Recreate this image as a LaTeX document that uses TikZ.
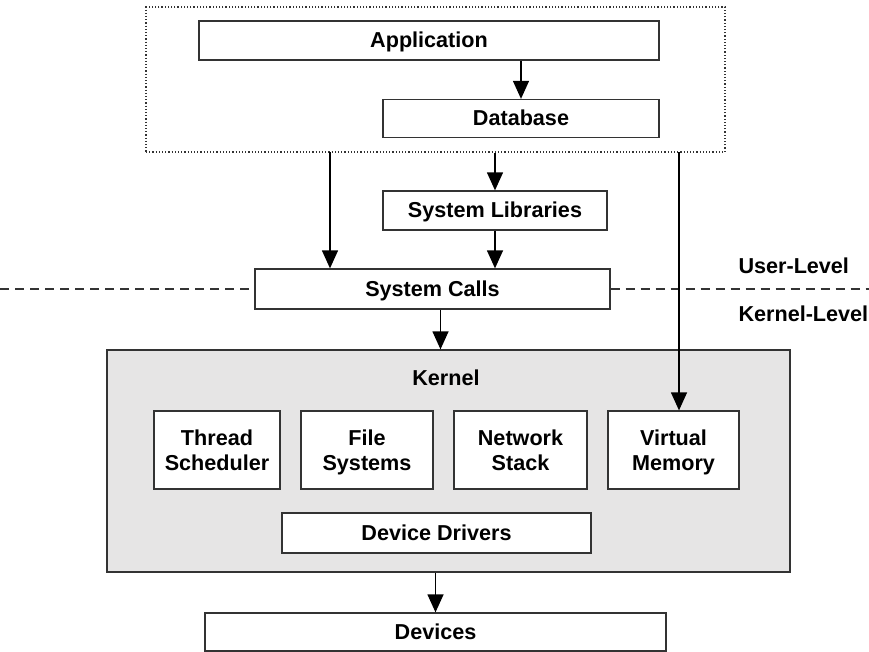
\documentclass[tikz,border=0pt]{standalone}
\usepackage{fontspec}
\setmainfont{Liberation Sans}
\usepackage{xcolor}
\usetikzlibrary{shapes.geometric, arrows, positioning, fit, backgrounds, arrows.meta}
\definecolor{kernelgray}{RGB}{230,229,229}
\definecolor{edgegray}{RGB}{51,51,51}
\newcommand{\nodepth}[1]{\raisebox{0pt}[\height][0pt]{#1}}

\begin{document}
\begin{tikzpicture}[
        x=1pt, y=-1pt, % one unit = one pixel of the sketch, y downwards
        arrow/.style={line width=1.3pt, -{Triangle[width=16pt,length=18pt]}}, % Arrow style
        box/.style={rectangle, draw=edgegray, line width=1.3pt, fill=white, inner sep=0pt, text centered, text height=15pt, text depth=1pt}, % Box style
        twoline/.style={box, align=center, text height=, text depth=, minimum width=131pt, minimum height=78pt}, % Kernel parts
        every node/.style={font=\fontsize{21.6}{25}\selectfont\bfseries}
    ]
        \useasboundingbox (0,0) rectangle (869,651);

        % User-level group
        \node (user) [rectangle, draw=edgegray, line width=1.2pt, dotted, minimum width=579pt, minimum height=145pt] at (435.5,79.5) {};
        \node (app) [box, minimum width=460pt, minimum height=39pt] at (429,40.5) {Application};
        \node (db) [box, minimum width=276pt, minimum height=38pt] at (521,118.5) {Database};
        \node (syslib) [box, minimum width=224pt, minimum height=39pt] at (495,210.5) {System Libraries};

        % User/kernel boundary
        \coordinate (dashL) at (0,289);
        \coordinate (dashR) at (869,289);
        \node (syscalls) [box, minimum width=355pt, minimum height=40pt] at (432.5,289) {System Calls};
        \draw [edgegray, line width=1.2pt, dash pattern=on 9pt off 6pt] (dashL) -- (syscalls.west);
        \draw [edgegray, line width=1.2pt, dash pattern=on 9pt off 6pt] (syscalls.east) -- (dashR);
        \node (ulevel) [anchor=west] at (735,266) {User-Level};
        \node (klevel) [anchor=west] at (735,314) {Kernel-Level};

        % Kernel
        \node (kernel) [box, fill=kernelgray, minimum width=683pt, minimum height=222pt] at (448.5,461) {};
        \node (kernellbl) at (446,378) {Kernel};
        \node (thread) [twoline, minimum width=126pt] at (217,450) {Thread\\Scheduler};
        \node (fs) [twoline, minimum width=132pt] at (367,450) {File\\\nodepth{Systems}};
        \node (net) [twoline, minimum width=133pt] at (520.5,450) {Network\\Stack};
        \node (vmem) [twoline] at (673.5,450) {Virtual\\\nodepth{Memory}};
        \node (drivers) [box, minimum width=309pt, minimum height=40pt] at (436.5,533) {Device Drivers};

        % Devices
        \node (devices) [box, minimum width=461pt, minimum height=38pt] at (435.5,632) {Devices};

        % Connect the user-level flow
        \coordinate (userL) at (330,152);
        \coordinate (userR) at (679,152);
        \draw [arrow] (app.south -| db.north) -- (db.north);
        \draw [arrow] (syslib.north |- user.south) -- (syslib.north);
        \draw [arrow] (userL) -- (userL |- syscalls.north);
        \draw [arrow] (syslib.south) -- (syslib.south |- syscalls.north);
        \draw [arrow] (userR) -- (userR |- vmem.north);

        % Connect down through the kernel
        \draw [arrow] ([xshift=8pt]syscalls.south) -- ([xshift=8pt]syscalls.south |- kernel.north);
        \draw [arrow] (devices.north |- kernel.south) -- (devices.north);

    \end{tikzpicture}
\end{document}
